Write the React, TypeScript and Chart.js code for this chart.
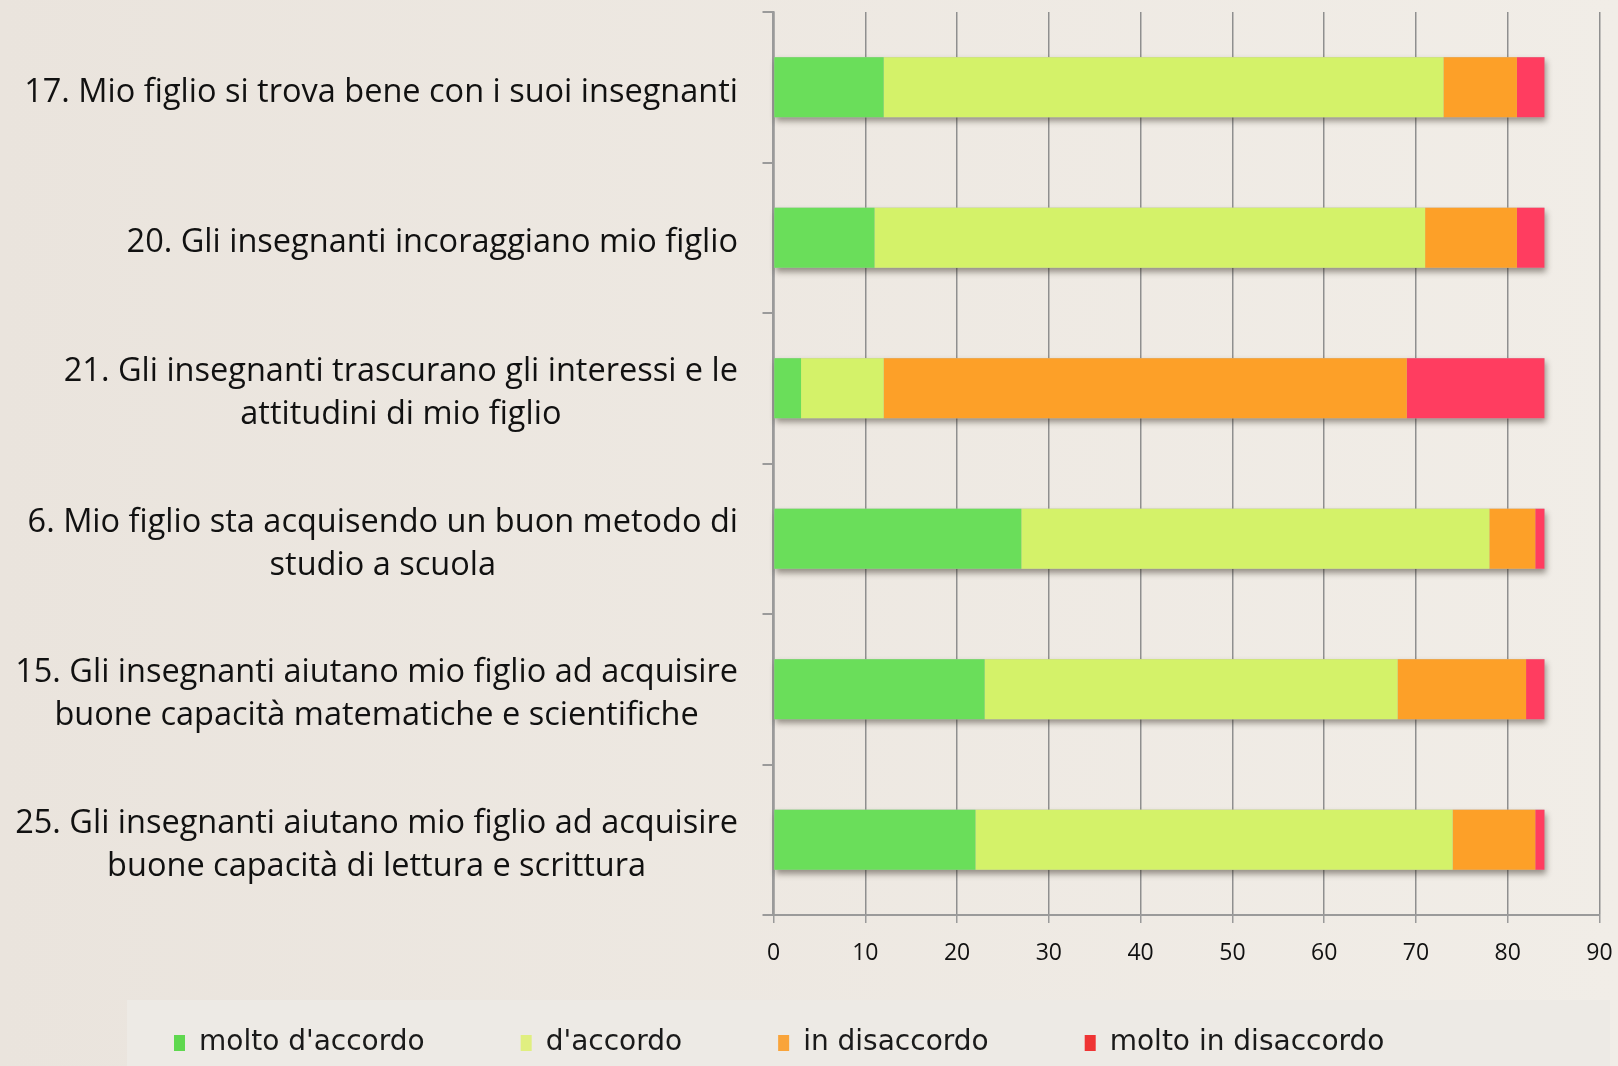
import React, { useEffect, useRef } from "react";
import { Chart, registerables } from "chart.js";

Chart.register(...registerables);

// ---- data ----
const categories: string[][] = [
  ["17. Mio figlio si trova bene con i suoi insegnanti"],
  ["20. Gli insegnanti incoraggiano mio figlio"],
  ["21. Gli insegnanti trascurano gli interessi e le", "attitudini di mio figlio"],
  ["6. Mio figlio sta acquisendo un buon metodo di", "studio a scuola"],
  ["15. Gli insegnanti aiutano mio figlio ad acquisire", "buone capacità matematiche e scientifiche"],
  ["25. Gli insegnanti aiutano mio figlio ad acquisire", "buone capacità di lettura e scrittura"],
];
const seriesNames = ["molto d'accordo", "d'accordo", "in disaccordo", "molto in disaccordo"];
const moltoAccordo = [12, 11, 3, 27, 23, 22];
const accordo = [61, 60, 9, 51, 45, 52];
const disaccordo = [8, 10, 57, 5, 14, 9];
const moltoDisaccordo = [3, 3, 15, 1, 2, 1];
const xMin = 0;
const xMax = 90;
const xStep = 10;

const seriesColors = ["#6ade5a", "#d4f269", "#fda028", "#ff3d60"];
const legendColors = ["#5fd84f", "#e0ef80", "#f9a43a", "#ef3434"];

const W = 1618;
const H = 1066;

const backgroundPlugin = {
  id: "bgPlugin",
  beforeDraw(chart: any) {
    const ctx = chart.ctx;
    ctx.save();
    const g = ctx.createLinearGradient(0, 0, W, 0);
    g.addColorStop(0, "#eae4dd");
    g.addColorStop(1, "#f1ede7");
    ctx.fillStyle = g;
    ctx.fillRect(0, 0, W, H);
    // legend panel
    ctx.fillStyle = "#edeae5";
    ctx.fillRect(127, 1000, 1483, 66);
    ctx.restore();
  },
};

const shadowPlugin = {
  id: "barShadow",
  beforeDatasetsDraw(chart: any) {
    const metas = chart.getSortedVisibleDatasetMetas();
    if (!metas.length) return;
    const first = metas[0];
    const last = metas[metas.length - 1];
    const ctx = chart.ctx;
    ctx.save();
    ctx.shadowColor = "rgba(40,30,20,0.45)";
    ctx.shadowBlur = 6;
    ctx.shadowOffsetX = 2;
    ctx.shadowOffsetY = 4;
    ctx.fillStyle = "#bbbbbb";
    first.data.forEach((el: any, i: number) => {
      const endEl = last.data[i];
      const left = el.base;
      const right = endEl.x;
      const top = el.y - el.height / 2;
      ctx.fillRect(left, top, right - left, el.height);
    });
    ctx.restore();
  },
};

const categoryLabelPlugin = {
  id: "categoryLabels",
  afterDraw(chart: any) {
    const ctx = chart.ctx;
    const yScale = chart.scales.y;
    const right = chart.chartArea.left - 35.5;
    ctx.save();
    ctx.font = '32.5px "Open Sans"';
    ctx.fillStyle = "#111111";
    ctx.textAlign = "center";
    ctx.textBaseline = "middle";
    (chart.data.labels as any[]).forEach((lab, i) => {
      const lines: string[] = Array.isArray(lab) ? lab : [lab];
      const widest = Math.max(...lines.map((l) => ctx.measureText(l).width));
      const cx = right - widest / 2;
      const cy = yScale.getPixelForTick(i) + 5;
      lines.forEach((l, j) => {
        ctx.fillText(l, cx, cy + (j - (lines.length - 1) / 2) * 43);
      });
    });
    ctx.restore();
  },
};

export default function App() {
  const canvasRef = useRef<HTMLCanvasElement | null>(null);

  useEffect(() => {
    const canvas = canvasRef.current;
    if (!canvas) return;
    const datasetsValues = [moltoAccordo, accordo, disaccordo, moltoDisaccordo];
    const chart = new Chart(canvas, {
      type: "bar",
      data: {
        labels: categories,
        datasets: datasetsValues.map((vals, i) => ({
          label: seriesNames[i],
          data: vals,
          backgroundColor: seriesColors[i],
          borderWidth: 0,
          barPercentage: 1,
          categoryPercentage: 0.4,
        })),
      },
      options: {
        indexAxis: "y",
        responsive: false,
        animation: false,
        devicePixelRatio: 1,
        layout: {
          padding: { left: 78, right: 18.5, top: 12, bottom: -1 },
        },
        scales: {
          x: {
            stacked: true,
            min: xMin,
            max: xMax,
            ticks: {
              stepSize: xStep,
              padding: 17,
              color: "#111111",
              font: { family: '"Open Sans"', size: 23 },
            },
            grid: {
              color: "#8f8f8f",
              lineWidth: 1.5,
              drawTicks: true,
              tickLength: 8,
              tickColor: "#9a9a9a",
            },
            border: { display: true, color: "#9a9a9a", width: 2 },
            afterFit(scale: any) {
              scale.height = 18;
              scale.paddingLeft = 0;
              scale.paddingRight = 0;
              // tick labels sit below this thin box: do not clip them to it
              scale._computeLabelArea = () => undefined;
            },
          },
          y: {
            stacked: true,
            ticks: { display: false },
            grid: {
              display: true,
              offset: true,
              drawOnChartArea: false,
              drawTicks: true,
              tickLength: 11,
              color: "#9a9a9a",
              lineWidth: 2,
            },
            border: { display: true, color: "#9a9a9a", width: 2.5 },
            afterFit(scale: any) {
              scale.width = 695.5;
              scale.paddingTop = 0;
              scale.paddingBottom = 0;
            },
          },
        },
        plugins: {
          legend: {
            display: true,
            position: "bottom",
            align: "start",
            labels: {
              padding: 96,
              boxWidth: 11,
              boxHeight: 16,
              color: "#1a1a1a",
              font: { family: '"DejaVu Sans"', size: 28 },
              generateLabels(chart: any) {
                const items = Chart.defaults.plugins.legend.labels.generateLabels(chart);
                return items.map((it: any, i: number) => ({
                  ...it,
                  fillStyle: legendColors[i],
                  strokeStyle: legendColors[i],
                  lineWidth: 0,
                }));
              },
            },
          },
          tooltip: { enabled: false },
          title: { display: false },
        },
      },
      plugins: [backgroundPlugin, shadowPlugin, categoryLabelPlugin],
    });
    return () => chart.destroy();
  }, []);

  return (
    <div
      style={{
        position: "fixed",
        left: 0,
        top: 0,
        width: W,
        height: H,
        background: "#eee9e2",
      }}
    >
      <canvas ref={canvasRef} width={W} height={H} style={{ display: "block" }} />
    </div>
  );
}
